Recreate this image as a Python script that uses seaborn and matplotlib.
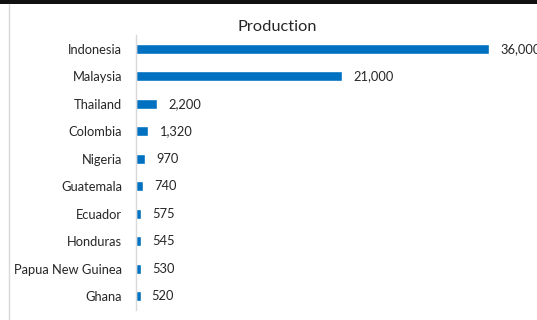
import matplotlib
matplotlib.use("Agg")
import matplotlib.pyplot as plt
import seaborn as sns
import pandas as pd
from matplotlib.patches import Rectangle
from matplotlib.lines import Line2D

countries = ["Indonesia", "Malaysia", "Thailand", "Colombia", "Nigeria",
             "Guatemala", "Ecuador", "Honduras", "Papua New Guinea", "Ghana"]
production = [36000, 21000, 2200, 1320, 970, 740, 575, 545, 530, 520]
value_labels = ["36,000", "21,000", "2,200", "1,320", "970",
                "740", "575", "545", "530", "520"]
title = "Production"

df = pd.DataFrame({"country": countries, "production": production})

sns.set_theme(style="white")
plt.rcParams["font.family"] = ["Lato", "DejaVu Sans"]

fig = plt.figure(figsize=(5.37, 3.2), dpi=100)
ax = fig.add_axes([135.5 / 537, 1 - 310 / 320, 393 / 537, 275 / 320])

sns.barplot(data=df, x="production", y="country", orient="h",
            color="#0070C0", saturation=1, width=0.36, ax=ax)

ax.set_xlim(0, 40000)
ax.set_ylim(9.5, -0.5)
ax.set_xlabel("")
ax.set_ylabel("")
ax.set_xticks([])
ax.tick_params(axis="y", length=0, pad=9.5, labelsize=9.3, labelcolor="#262626")
for side in ["top", "right", "bottom"]:
    ax.spines[side].set_visible(False)
ax.spines["left"].set_color("#d9d9d9")
ax.spines["left"].set_linewidth(1)

ax.bar_label(ax.containers[0], labels=value_labels, padding=8,
             fontsize=9.3, color="#262626", clip_on=False)

fig.text(277 / 537, 1 - 27 / 320, title, ha="center", va="center",
         fontsize=11.8, color="#262626")

# dark band along the top edge and chart-area border on the left
fig.add_artist(Rectangle((0, 1 - 4 / 320), 1, 4 / 320, transform=fig.transFigure,
                         facecolor="#111111", edgecolor="none"))
fig.add_artist(Line2D([9 / 537, 9 / 537], [0, 1 - 4 / 320], transform=fig.transFigure,
                      color="#d9d9d9", linewidth=1))

fig.savefig("out.png", dpi=100)
